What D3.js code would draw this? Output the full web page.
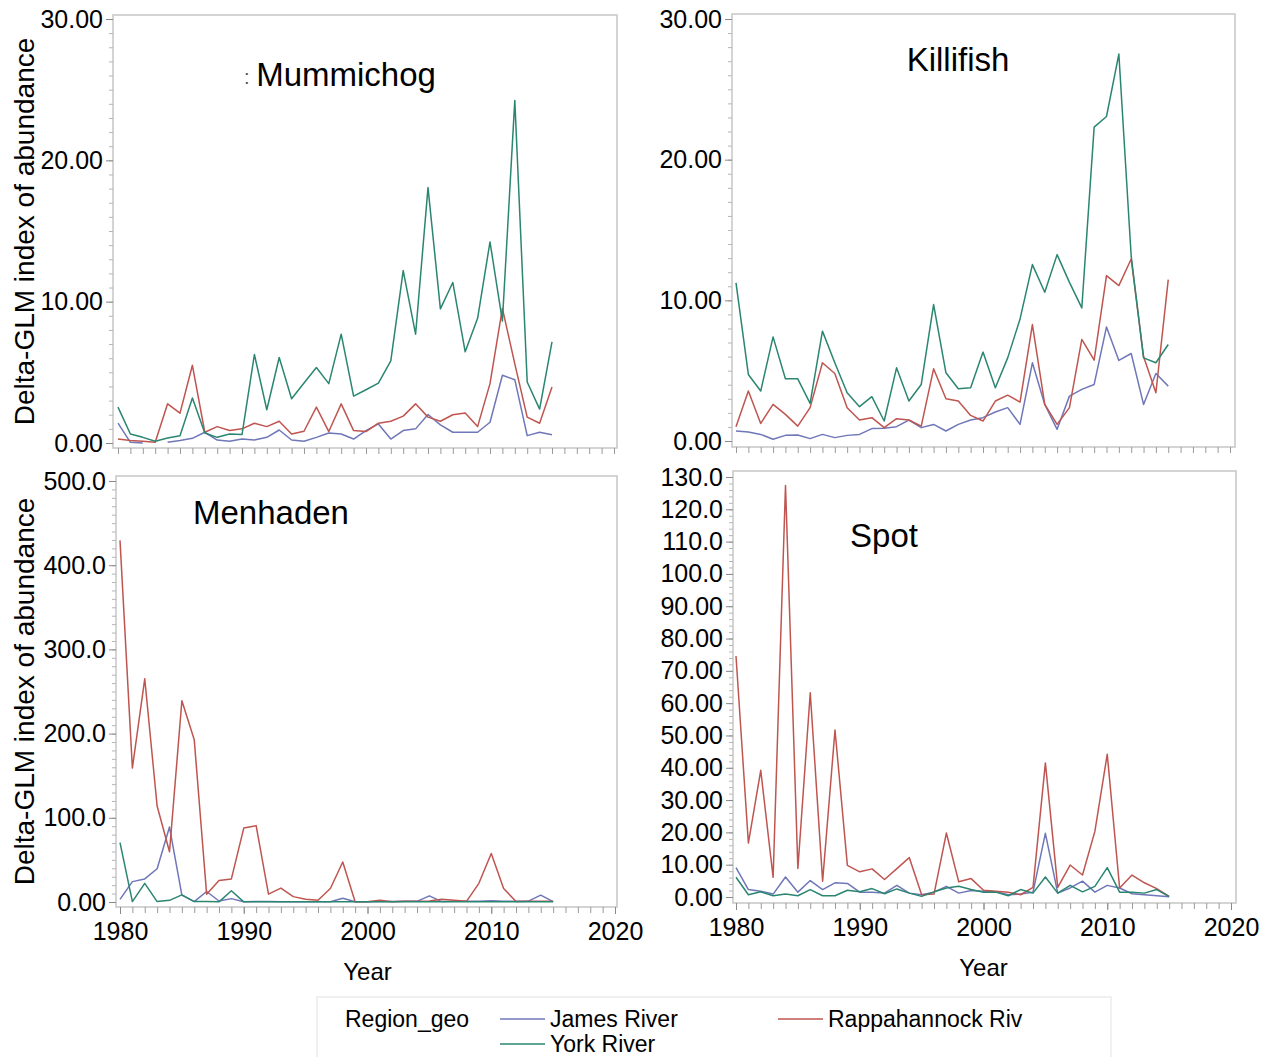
<!DOCTYPE html>
<html>
<head>
<meta charset="utf-8">
<script src="https://cdn.jsdelivr.net/npm/d3@7"></script>
<style>
  body { margin: 0; background: #fff; }
  svg { display: block; }
  text { font-family: "Liberation Sans", Arial, sans-serif; fill: #000; }
</style>
</head>
<body>
<script>
const years = [1980,1981,1982,1983,1984,1985,1986,1987,1988,1989,1990,1991,1992,1993,1994,1995,1996,1997,
  1998,1999,2000,2001,2002,2003,2004,2005,2006,2007,2008,2009,2010,2011,2012,2013,2014,2015];
const regions = ['James River', 'Rappahannock Riv', 'York River'];
const colors = ['#6f77b8', '#bf5550', '#2b8671'];

// Mummichog (James River has no value in 1983)
const mummichogJames = [1.4,0.05,0.0,null,0.05,0.17,0.33,0.76,0.21,0.12,0.28,0.21,0.4,0.92,0.21,0.12,0.4,0.71,
  0.64,0.28,0.88,1.35,0.28,0.88,1.0,2.02,1.28,0.76,0.76,0.76,1.47,4.79,4.48,0.52,0.76,0.59];
const mummichogRapp = [0.28,0.17,0.12,0.05,2.77,2.11,5.5,0.76,1.16,0.88,1.0,1.4,1.16,1.54,0.64,0.83,2.54,0.81,
  2.77,0.88,0.81,1.4,1.54,1.9,2.77,1.83,1.54,2.0,2.13,1.16,4.2,9.53,5.6,1.83,1.4,3.96];
const mummichogYork = [2.54,0.64,0.4,0.12,0.35,0.52,3.18,0.71,0.4,0.64,0.6,6.26,2.35,6.05,3.13,4.24,5.34,4.2,
  7.7,3.32,3.77,4.24,5.81,12.2,7.7,18.07,9.49,11.36,6.45,8.82,14.23,8.63,24.24,4.32,2.4,7.16];

// Killifish
const killifishJames = [0.71,0.64,0.47,0.12,0.4,0.43,0.17,0.47,0.24,0.4,0.47,0.88,0.9,1.02,1.49,0.95,1.18,0.71,
  1.18,1.49,1.66,2.06,2.37,1.18,5.56,2.6,0.83,3.19,3.67,4.02,8.11,5.73,6.22,2.6,4.8,3.9];
const killifishRapp = [1.02,3.55,1.25,2.6,1.89,1.06,2.37,5.56,4.8,2.37,1.49,1.66,0.95,1.59,1.49,1.06,5.13,3.0,
  2.84,1.82,1.42,2.84,3.26,2.77,8.28,2.6,1.18,2.37,7.22,5.75,11.76,11.05,12.94,6.0,3.43,11.47];
const killifishYork = [11.24,4.73,3.55,7.4,4.42,4.42,2.67,7.81,5.56,3.43,2.44,3.15,1.42,5.2,2.84,4.02,9.7,4.85,
  3.71,3.79,6.32,3.79,5.91,8.68,12.54,10.57,13.25,11.28,9.46,22.31,23.07,27.51,13.13,5.91,5.56,6.86];

// Menhaden
const menhadenJames = [3.2,24.2,27.4,39.5,89,8.1,0.5,12.5,1.2,4,0.3,0.5,0.5,0.3,0.3,0.3,0.3,0.3,
  4.4,0.3,0.3,0.5,0.5,0.8,0.8,7.3,0.5,1,1,1,1.5,1,1,1,8.1,0.5];
const menhadenRapp = [429.5,159.1,265.1,114,59.6,238.9,192.6,9.3,25.4,27.4,87.8,90.7,9.3,16.5,6.4,3.2,2.0,16.1,
  47.5,0.3,0.3,2.0,0.3,1.0,1.0,1.2,3.2,2.0,0.8,22.2,57.6,16.1,0.5,1.0,1.0,1.0];
const menhadenYork = [70.5,0.5,22.2,0.5,2.0,8.5,0.5,0.5,0.2,13.3,0.2,0.3,0.3,0.2,0.2,0.2,0.2,0.2,
  0.3,0.2,0.2,0.2,0.2,0.2,0.2,0.3,0.2,0.2,0.2,0.2,0.3,0.2,0.2,0.2,0.2,0.2];

// Spot
const spotJames = [9.1,2.3,1.8,0.9,6.2,1.5,5.1,2.3,4.4,4.2,1.5,1.5,1.2,3.6,1.2,0.7,1.5,3.3,
  1.2,2.0,1.8,1.6,0.7,0.9,1.5,19.7,1.2,2.8,4.9,1.5,3.6,2.8,1.0,0.7,0.4,0.1];
const spotRapp = [74.6,16.7,39.2,6.1,127.4,8.8,63.2,4.9,51.7,9.8,7.8,8.7,5.4,8.8,12.2,0.7,0.9,19.8,
  4.7,5.7,2.1,1.8,1.5,0.7,3.0,41.5,3.0,9.9,6.8,20.3,44.2,2.8,6.8,4.4,2.6,0.2];
const spotYork = [6.1,0.7,1.6,0.4,0.9,0.4,2.3,0.4,0.4,2.1,1.6,2.6,1.0,2.5,1.2,0.2,1.6,2.8,
  3.3,2.3,1.5,1.5,0.4,2.3,1.2,6.2,1.2,3.6,1.6,3.3,9.1,1.5,1.5,1.2,2.3,0.1];

// axis ticks
const xTicks = [1980, 1990, 2000, 2010, 2020];
const smallTicks = [0, 10, 20, 30];
const smallTickLabels = ['0.00', '10.00', '20.00', '30.00'];
const menhadenTicks = [0, 100, 200, 300, 400, 500];
const menhadenTickLabels = ['0.00', '100.0', '200.0', '300.0', '400.0', '500.0'];
const spotTicks = [0,10,20,30,40,50,60,70,80,90,100,110,120,130];
const spotTickLabels = ['0.00','10.00','20.00','30.00','40.00','50.00','60.00','70.00','80.00','90.00',
  '100.0','110.0','120.0','130.0'];

const panels = [
  {title: 'Mummichog', series: [mummichogJames, mummichogRapp, mummichogYork], max: 30, minor: 1,
   ticks: smallTicks, labels: smallTickLabels, box: [113, 617, 15, 448], xr: [118, 614], yr: [443, 19],
   tx: 346, ty: 86, yTitle: true, xLabels: false},
  {title: 'Killifish', series: [killifishJames, killifishRapp, killifishYork], max: 30, minor: 1,
   ticks: smallTicks, labels: smallTickLabels, box: [732, 1235, 14, 447], xr: [736, 1230], yr: [441, 19],
   tx: 958, ty: 71, yTitle: false, xLabels: false},
  {title: 'Menhaden', series: [menhadenJames, menhadenRapp, menhadenYork], max: 500, minor: 10,
   ticks: menhadenTicks, labels: menhadenTickLabels, box: [116, 617, 476, 907], xr: [120, 615], yr: [902, 481],
   tx: 271, ty: 524, yTitle: true, xLabels: true},
  {title: 'Spot', series: [spotJames, spotRapp, spotYork], max: 130, minor: 2,
   ticks: spotTicks, labels: spotTickLabels, box: [733, 1236, 471, 903], xr: [736, 1231], yr: [897, 477],
   tx: 884, ty: 547, yTitle: false, xLabels: true}
];

const svg = d3.select('body').append('svg')
  .attr('width', 1267)
  .attr('height', 1057);

panels.forEach(p => {
  const [bx0, bx1, by0, by1] = p.box;
  const x = d3.scaleLinear().domain([1980, 2020]).range(p.xr);
  const y = d3.scaleLinear().domain([0, p.max]).range(p.yr);
  const g = svg.append('g');

  // frame
  g.append('rect')
    .attr('x', bx0).attr('y', by0)
    .attr('width', bx1 - bx0).attr('height', by1 - by0)
    .attr('fill', 'none').attr('stroke', '#c6c6c6').attr('stroke-width', 1.5);

  // y minor ticks
  g.append('g')
    .attr('transform', `translate(${bx0},0)`)
    .call(d3.axisLeft(y).tickValues(d3.range(0, p.max + p.minor / 2, p.minor)).tickSize(4).tickFormat(''))
    .call(a => a.select('.domain').remove())
    .call(a => a.selectAll('line').attr('stroke', '#b5b5b5'));

  // y major ticks
  g.append('g')
    .attr('transform', `translate(${bx0},0)`)
    .call(d3.axisLeft(y).tickValues(p.ticks).tickSize(7).tickPadding(3).tickFormat((d, i) => p.labels[i]))
    .call(a => a.select('.domain').remove())
    .call(a => a.selectAll('line').attr('stroke', '#8a8a8a'))
    .call(a => a.selectAll('text').attr('font-size', 25).attr('fill', '#111')
      .attr('font-family', '"Liberation Sans", Arial, sans-serif'));

  // x ticks, one per year
  g.append('g')
    .attr('transform', `translate(0,${by1})`)
    .call(d3.axisBottom(x).tickValues(d3.range(1980, 2021)).tickSize(6).tickFormat(''))
    .call(a => a.select('.domain').remove())
    .call(a => a.selectAll('line').attr('stroke', '#9a9a9a'));

  if (p.xLabels) {
    g.append('g')
      .attr('transform', `translate(0,${by1})`)
      .call(d3.axisBottom(x).tickValues(xTicks).tickSize(7).tickPadding(8).tickFormat(d3.format('d')))
      .call(a => a.select('.domain').remove())
      .call(a => a.selectAll('line').attr('stroke', '#8a8a8a'))
      .call(a => a.selectAll('text').attr('font-size', 25).attr('fill', '#111')
        .attr('font-family', '"Liberation Sans", Arial, sans-serif'));

    g.append('text')
      .attr('x', (p.xr[0] + p.xr[1]) / 2)
      .attr('y', by1 + 73)
      .attr('text-anchor', 'middle')
      .attr('font-size', 24)
      .text('Year');
  }

  if (p.yTitle) {
    g.append('text')
      .attr('transform', `translate(34,${(by0 + by1) / 2}) rotate(-90)`)
      .attr('text-anchor', 'middle')
      .attr('font-size', 28)
      .text('Delta-GLM index of abundance');
  }

  // series lines
  const line = d3.line()
    .defined(d => d != null)
    .x((d, i) => x(years[i]))
    .y(d => y(d));

  p.series.forEach((s, k) => {
    g.append('path')
      .datum(s)
      .attr('fill', 'none')
      .attr('stroke', colors[k])
      .attr('stroke-width', 1.5)
      .attr('stroke-linejoin', 'round')
      .attr('d', line);
  });

  g.append('text')
    .attr('x', p.tx).attr('y', p.ty)
    .attr('text-anchor', 'middle')
    .attr('font-size', 33)
    .text(p.title);
});

// stray mark before the Mummichog title
svg.append('text')
  .attr('x', 244).attr('y', 84)
  .attr('font-size', 20)
  .style('fill', '#555')
  .text(':');

// legend
const legend = svg.append('g');
legend.append('rect')
  .attr('x', 317).attr('y', 997).attr('width', 794).attr('height', 64)
  .attr('fill', 'none').attr('stroke', '#e2e2e2').attr('stroke-width', 1);
legend.append('text')
  .attr('x', 345).attr('y', 1027)
  .attr('font-size', 23)
  .text('Region_geo');

const legendPos = [[500, 1019], [778, 1019], [500, 1044]];
regions.forEach((r, k) => {
  const [lx, ly] = legendPos[k];
  legend.append('line')
    .attr('x1', lx).attr('x2', lx + 45)
    .attr('y1', ly).attr('y2', ly)
    .attr('stroke', colors[k]).attr('stroke-width', 1.5);
  legend.append('text')
    .attr('x', lx + 50).attr('y', ly + 8)
    .attr('font-size', 23)
    .text(r);
});
</script>
</body>
</html>
